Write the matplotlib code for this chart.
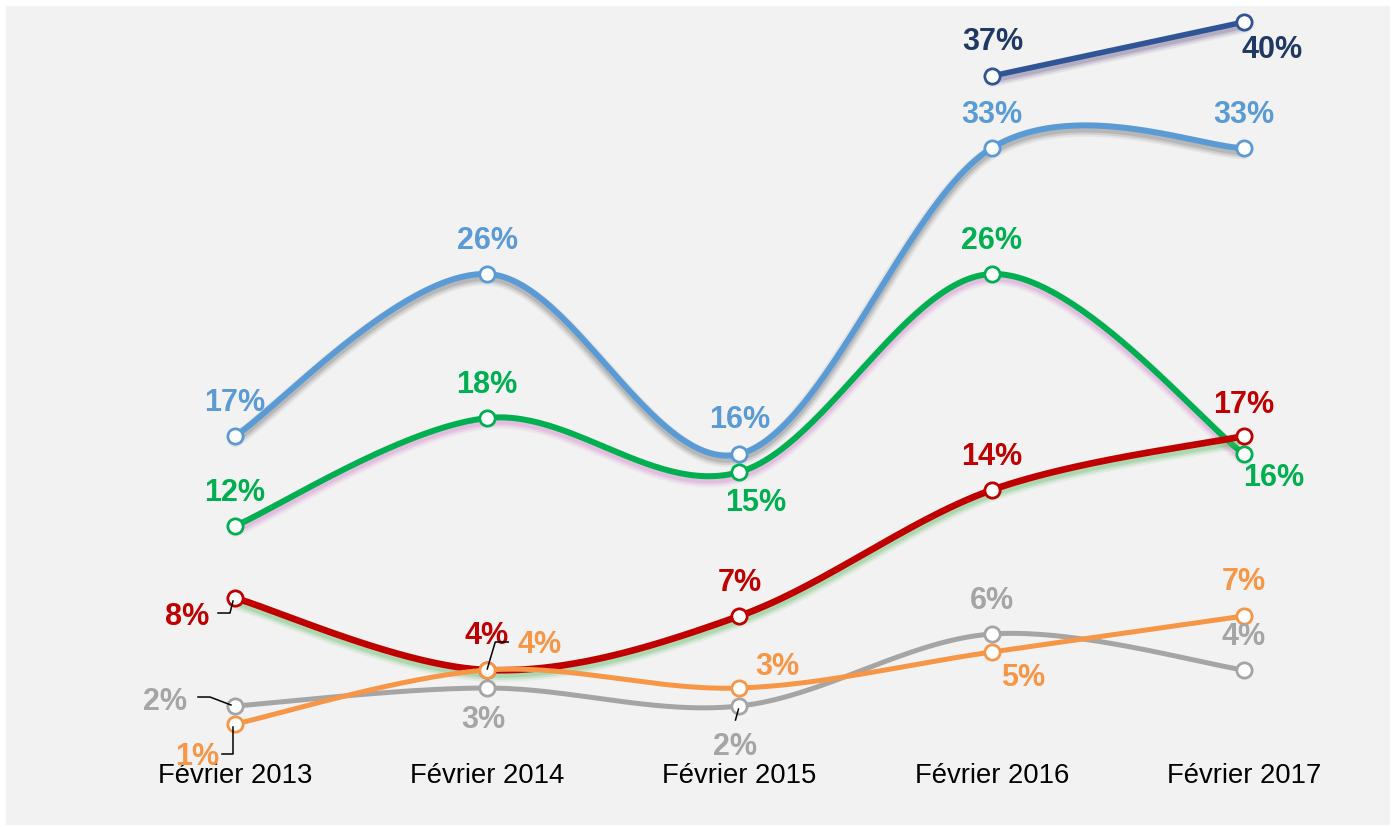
import numpy as np
import matplotlib
matplotlib.use('Agg')
import matplotlib.pyplot as plt
import matplotlib.patheffects as pe
from matplotlib.patches import Rectangle
from matplotlib.lines import Line2D

plt.rcParams['font.family'] = ['Liberation Sans', 'DejaVu Sans']

# data
categories = ['Février 2013', 'Février 2014', 'Février 2015', 'Février 2016', 'Février 2017']
dark_blue = [np.nan, np.nan, np.nan, 37, 40]
light_blue = [17, 26, 16, 33, 33]
green = [12, 18, 15, 26, 16]
red = [8, 4, 7, 14, 17]
grey = [2, 3, 2, 6, 4]
orange = [1, 4, 3, 5, 7]

# label offsets in pixels (dx, dy up)
up = (0, 34)
off_dark_blue = [None, None, None, (1, 35), (28, -27)]
off_light_blue = [up, up, (0, 35), up, up]
off_green = [up, up, (16, -30), up, (30, -23)]
off_red = [(-48, -18), (-1, 35), up, up, (0, 32)]
off_grey = [(-70, 5), (-4, -31), (-4, -40), up, up]
off_orange = [(-38, -32), (52, 26), (38, 22), (31, -25), (0, 35)]

# leader lines, pixel offsets from the point
leaders = [
    (red, 0, [(-17, -15), (-5, -15), (-2, -3)]),
    (red, 1, [(21, 28), (8, 28), (0, 1)]),
    (grey, 0, [(-37, 9), (-25, 9), (-4, 1)]),
    (grey, 2, [(-4, -14), (-1, -3)]),
    (orange, 0, [(-2, -3), (-2, -30), (-13, -30)]),
]


def smooth(xs, ys, n=60):
    pts = np.column_stack([xs, ys]).astype(float)
    out = []
    for i in range(len(pts) - 1):
        p0 = pts[max(i - 1, 0)]
        p1 = pts[i]
        p2 = pts[i + 1]
        p3 = pts[min(i + 2, len(pts) - 1)]
        c1 = p1 + (p2 - p0) / 6
        c2 = p2 - (p3 - p1) / 6
        t = np.linspace(0, 1, n)[:, None]
        seg = (1 - t) ** 3 * p1 + 3 * (1 - t) ** 2 * t * c1 + 3 * (1 - t) * t ** 2 * c2 + t ** 3 * p2
        out.append(seg if i == 0 else seg[1:])
    return np.vstack(out)


fig = plt.figure(figsize=(13.94, 8.28), dpi=100)
fig.patch.set_facecolor('white')
fig.patches.append(Rectangle((6 / 1394, 2 / 828), 1384 / 1394, 819 / 828,
                             transform=fig.transFigure, facecolor='#f2f2f2',
                             edgecolor='none', zorder=-5))
ax = fig.add_axes([0, 0, 1, 1])
ax.set_facecolor('none')
ax.set_xlim(-0.9316, 4.5947)
ax.set_ylim(-4.722, 41.28)
ax.axis('off')

x = np.arange(len(categories))

series = [
    (dark_blue, '#2F5597', '#203864', '#6a5a8a', 4.0, off_dark_blue),
    (light_blue, '#5B9BD5', '#5B9BD5', '#707070', 4.3, off_light_blue),
    (green, '#00B050', '#00B050', '#d080c8', 4.3, off_green),
    (red, '#C00000', '#C00000', '#5cb860', 4.8, off_red),
    (grey, '#A5A5A5', '#A5A5A5', None, 3.6, off_grey),
    (orange, '#F79646', '#F79646', None, 3.6, off_orange),
]

z = 2
for vals, color, lcolor, shadow, lw, offs in series:
    vals = np.array(vals, dtype=float)
    ok = ~np.isnan(vals)
    curve = smooth(x[ok], vals[ok])
    effects = [pe.Normal()]
    mk_effects = [pe.Normal()]
    if shadow:
        effects = [pe.SimpleLineShadow(offset=(0, -3), shadow_color=shadow, alpha=0.10, linewidth=lw + 6),
                   pe.SimpleLineShadow(offset=(0, -3), shadow_color=shadow, alpha=0.18, linewidth=lw + 3),
                   pe.SimpleLineShadow(offset=(0, -3), shadow_color=shadow, alpha=0.25, linewidth=lw),
                   pe.Normal()]
        mk_effects = [pe.SimplePatchShadow(offset=(0, -3), shadow_rgbFace=shadow, alpha=0.3),
                      pe.Normal()]
    ax.plot(curve[:, 0], curve[:, 1], color=color, lw=lw, solid_capstyle='round',
            path_effects=effects, zorder=z)
    ax.plot(x[ok], vals[ok], 'o', ms=11, mfc='white', mec=color, mew=2.0, zorder=z + 0.5)
    for xi, v, o in zip(x, vals, offs):
        if np.isnan(v) or o is None:
            continue
        ax.annotate(f'{int(v)}%', (xi, v), xytext=o, textcoords='offset pixels',
                    ha='center', va='center', fontsize=22, fontweight='bold',
                    color=lcolor, zorder=20)
    z += 1

fig.canvas.draw()
for vals, i, pts in leaders:
    px, py = ax.transData.transform((x[i], vals[i]))
    xs = [px + dx for dx, dy in pts]
    ys = [py + dy for dx, dy in pts]
    fig.add_artist(Line2D(xs, ys, color='black', lw=1.1, transform=None, zorder=30))

for xi, cat in zip(x, categories):
    ax.text(xi, 52 / 828, cat, transform=ax.get_xaxis_transform(), ha='center',
            va='center', fontsize=19.8, color='black')

fig.savefig('out.png', dpi=100, facecolor=fig.get_facecolor())
